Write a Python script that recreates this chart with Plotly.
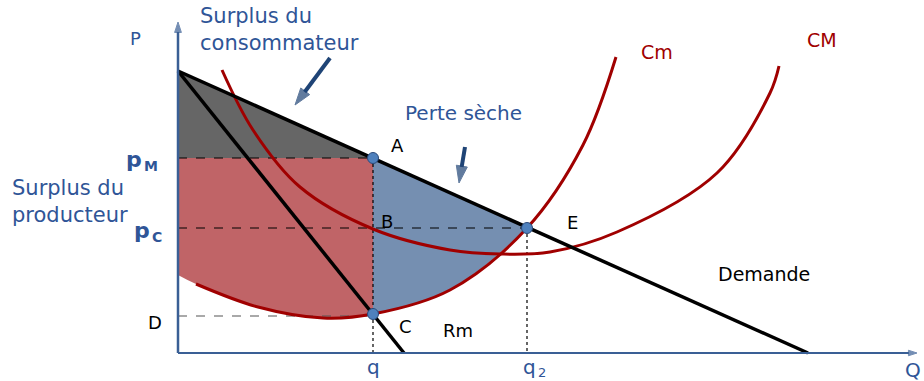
import plotly.graph_objects as go

# ---- data (chart units) ----
demand_x = [0, 31.5]
demand_y = [14.1, 0]
rm_x = [0, 11.3]
rm_y = [14.1, 0]

# marginal cost (Cm)
cm_x = [0.9, 4.0, 7.25, 9.75, 13.6, 17.45, 20.25, 21.9]
cm_y = [3.45, 2.3, 1.75, 1.95, 3.15, 6.25, 10.4, 14.8]
# lower edge of the producer-surplus area (Cm extended to the price axis)
ps_low_x = [0.0, 0.9, 4.0, 7.25, 9.75]
ps_low_y = [3.9, 3.45, 2.3, 1.75, 1.95]
# lower edge of the deadweight-loss area (Cm between C and E)
dw_low_x = [9.75, 13.6, 17.45]
dw_low_y = [1.95, 3.15, 6.25]

# average cost (CM)
cM_x = [2.2, 3.75, 6.1, 9.75, 13.6, 16.1, 18.6, 21.95, 26.95, 29.6, 30.05]
cM_y = [14.15, 11.15, 8.3, 6.2, 5.15, 4.95, 5.05, 6.05, 9.0, 13.0, 14.35]

q = 9.75
q2 = 17.45
pM = 9.75
pC = 6.25
pD = 1.85
pC_point = 1.95  # price at C
p_top = 14.1

BLUE_TXT = "#2F5597"
RED = "#A00000"
FONT = "DejaVu Sans"
AX = "#3A5F95"
PTR = "#1F4476"

fig = go.Figure()

# consumer surplus (grey)
fig.add_trace(go.Scatter(x=[0, q, 0, 0], y=[p_top, pM, pM, p_top], fill="toself",
                         fillcolor="#666666", line=dict(width=0), mode="lines", hoverinfo="skip"))
# producer surplus (red)
fig.add_trace(go.Scatter(x=ps_low_x, y=ps_low_y, mode="lines",
                         line=dict(width=0, shape="spline"), hoverinfo="skip"))
fig.add_trace(go.Scatter(x=[0, q], y=[pM, pM], mode="lines", fill="tonexty", fillcolor="#C06467",
                         line=dict(width=0), hoverinfo="skip"))
# deadweight loss (blue)
fig.add_trace(go.Scatter(x=dw_low_x, y=dw_low_y, mode="lines",
                         line=dict(width=0, shape="spline"), hoverinfo="skip"))
fig.add_trace(go.Scatter(x=[q, q2], y=[pM, pC], mode="lines", fill="tonexty", fillcolor="#758FB1",
                         line=dict(width=0), hoverinfo="skip"))

# dashed guide lines
dash = dict(color="black", width=1.2, dash="dash")
fig.add_trace(go.Scatter(x=[0, q], y=[pM, pM], mode="lines", line=dash, hoverinfo="skip"))
fig.add_trace(go.Scatter(x=[0, q2], y=[pC, pC], mode="lines", line=dash, hoverinfo="skip"))
fig.add_trace(go.Scatter(x=[q, q], y=[pM, 0], mode="lines", line=dict(color="black", width=1.2, dash="dot"), hoverinfo="skip"))
fig.add_trace(go.Scatter(x=[q2, q2], y=[pC, 0], mode="lines", line=dict(color="black", width=1.2, dash="dot"), hoverinfo="skip"))
fig.add_trace(go.Scatter(x=[0, q], y=[pD, pD], mode="lines", line=dict(color="#555555", width=1.2, dash="dash"), hoverinfo="skip"))

# curves
fig.add_trace(go.Scatter(x=cM_x, y=cM_y, mode="lines", line=dict(color=RED, width=3, shape="spline"), hoverinfo="skip"))
fig.add_trace(go.Scatter(x=cm_x, y=cm_y, mode="lines", line=dict(color=RED, width=3, shape="spline"), hoverinfo="skip"))
fig.add_trace(go.Scatter(x=demand_x, y=demand_y, mode="lines", line=dict(color="black", width=3.5), hoverinfo="skip"))
fig.add_trace(go.Scatter(x=rm_x, y=rm_y, mode="lines", line=dict(color="black", width=3.5), hoverinfo="skip"))


def arrow(x0, y0, x1, y1, color, width, head):
    fig.add_trace(go.Scatter(
        x=[x0, x1], y=[y0, y1], mode="lines+markers",
        line=dict(color=color, width=width),
        marker=dict(symbol=["circle", "arrow"], size=[0, head], color=color,
                    angleref="previous", line=dict(width=1, color=color)),
        hoverinfo="skip"))

# axes with arrowheads
arrow(0, 0, 0, 16.55, AX, 2.5, 11)
arrow(0, 0, 36.95, 0, AX, 2, 9)
# pointer arrows
arrow(7.6, 14.75, 5.85, 12.4, PTR, 4, 18)
arrow(14.35, 10.3, 14.05, 8.5, PTR, 4, 18)

# points A, C, E
fig.add_trace(go.Scatter(x=[q, q, q2], y=[pM, pC_point, pC], mode="markers",
                         marker=dict(size=11, color="#4F81BD", line=dict(color="#2A4A7A", width=1)), hoverinfo="skip"))

annotations = []

def label(x, y, text, color="black", size=18, xanchor="center", align="center", bold=False):
    annotations.append(dict(x=x, y=y, xref="x", yref="y", text=text, showarrow=False,
                            font=dict(family=FONT, size=size, color=color,
                                      weight="bold" if bold else "normal"),
                            xanchor=xanchor, yanchor="middle", align=align))

label(-2.15, 15.75, "P", BLUE_TXT, 18)
label(1.0, 16.2, "Surplus du<br>consommateur", BLUE_TXT, 21, xanchor="left", align="left")
label(14.25, 12.0, "Perte sèche", BLUE_TXT, 20)
label(10.95, 10.4, "A")
label(10.45, 6.6, "B")
label(19.7, 6.55, "E")
label(11.35, 1.35, "C")
label(-1.15, 1.55, "D")
label(14.0, 1.15, "Rm")
label(29.3, 3.95, "Demande", size=19)
label(23.95, 15.05, "Cm", RED, 19)
label(32.2, 15.65, "CM", RED, 19)
# p_M
label(-2.2, 9.7, "p", BLUE_TXT, 22, bold=True)
label(-1.35, 9.35, "M", BLUE_TXT, 14, bold=True)
label(-8.4, 7.6, "Surplus du<br>producteur", BLUE_TXT, 21, xanchor="left", align="left")
# p_C
label(-1.8, 6.15, "p", BLUE_TXT, 22, bold=True)
label(-1.05, 5.8, "C", BLUE_TXT, 14, bold=True)
label(9.75, -0.7, "q", BLUE_TXT, 20)
label(17.55, -0.7, "q", BLUE_TXT, 20)
label(18.2, -0.95, "2", BLUE_TXT, 13)
label(36.75, -0.85, "Q", BLUE_TXT, 20)

fig.update_layout(
    width=924, height=381,
    margin=dict(l=0, r=0, t=0, b=0),
    plot_bgcolor="white", paper_bgcolor="white",
    showlegend=False,
    xaxis=dict(range=[-8.9, 37.3], visible=False, fixedrange=True),
    yaxis=dict(range=[-1.4, 17.65], visible=False, fixedrange=True),
    annotations=annotations,
)

fig.write_html("out.html", config={"displayModeBar": False},
               post_script="document.body.style.margin='0';document.body.style.overflow='hidden';")
